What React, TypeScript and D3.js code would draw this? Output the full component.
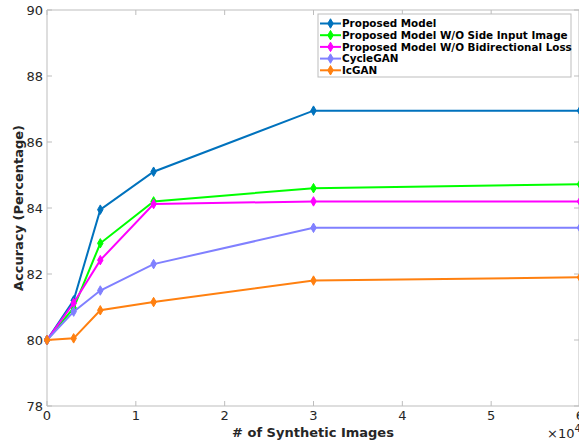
import * as d3 from "d3";

const xValues = [0, 3000, 6000, 12000, 30000, 60000];
const seriesNames = [
  "Proposed Model",
  "Proposed Model W/O Side Input Image",
  "Proposed Model W/O Bidirectional Loss",
  "CycleGAN",
  "IcGAN",
];
const proposed = [80, 81.2, 83.95, 85.1, 86.95, 86.95];
const noSideInput = [80, 80.97, 82.93, 84.2, 84.6, 84.72];
const noBidirectional = [80, 81.12, 82.42, 84.12, 84.2, 84.2];
const cycleGan = [80, 80.86, 81.5, 82.3, 83.4, 83.4];
const icGan = [80, 80.05, 80.9, 81.15, 81.8, 81.9];
const colors = ["#0072BD", "#00FF00", "#FF00FF", "#8080FF", "#FF8010"];
const xTicks = [0, 10000, 20000, 30000, 40000, 50000, 60000];
const yTicks = [78, 80, 82, 84, 86, 88, 90];

const W = 579;
const H = 441;
const left = 47, right = 580, top = 10, bottom = 406;
const axisColor = "#bdbdbd";
const textColor = "#262626";

export default function App() {
  const x = d3.scaleLinear().domain([0, 60000]).range([left, right]);
  const y = d3.scaleLinear().domain([78, 90]).range([bottom, top]);
  const all = [proposed, noSideInput, noBidirectional, cycleGan, icGan];
  const line = d3
    .line<number>()
    .x((_, i) => x(xValues[i]))
    .y((d) => y(d));
  const diamond = d3.symbol(d3.symbolDiamond, 26)()!;

  return (
    <svg
      width={W}
      height={H}
      style={{ position: "absolute", left: 0, top: 0, fontFamily: "DejaVu Sans" }}
    >
      <rect width={W} height={H} fill="white" />
      {/* box + ticks */}
      <line x1={left} x2={left} y1={top} y2={bottom} stroke={axisColor} />
      <line x1={left} x2={right} y1={bottom} y2={bottom} stroke={axisColor} />
      <line x1={left} x2={right} y1={top} y2={top} stroke={axisColor} />
      <line x1={right - 1} x2={right - 1} y1={top} y2={bottom} stroke={axisColor} />
      {xTicks.map((t) => (
        <g key={"x" + t}>
          <line x1={x(t)} x2={x(t)} y1={bottom} y2={bottom - 5} stroke={axisColor} />
          <line x1={x(t)} x2={x(t)} y1={top} y2={top + 5} stroke={axisColor} />
          <text x={x(t)} y={420} fontSize={13} fill={textColor} textAnchor="middle">
            {t / 10000}
          </text>
        </g>
      ))}
      {yTicks.map((t) => (
        <g key={"y" + t}>
          <line x1={left} x2={left + 5} y1={y(t)} y2={y(t)} stroke={axisColor} />
          <line x1={right - 6} x2={right - 1} y1={y(t)} y2={y(t)} stroke={axisColor} />
          <text x={43} y={y(t) + 4.5} fontSize={13} fill={textColor} textAnchor="end">
            {t}
          </text>
        </g>
      ))}
      <text x={547} y={438} fontSize={13} fill={textColor}>
        ×10
        <tspan dy={-6} fontSize={10}>4</tspan>
      </text>
      <text x={313} y={437} fontSize={13} fontWeight="bold" fill={textColor} textAnchor="middle">
        # of Synthetic Images
      </text>
      <text
        transform={`translate(23,${(top + bottom) / 2}) rotate(-90)`}
        fontSize={13}
        fontWeight="bold"
        fill={textColor}
        textAnchor="middle"
      >
        Accuracy (Percentage)
      </text>
      {/* series */}
      {all.map((s, k) => (
        <g key={seriesNames[k]}>
          <path d={line(s)!} fill="none" stroke={colors[k]} strokeWidth={2} />
          {s.map((v, i) => (
            <path
              key={i}
              d={diamond}
              transform={`translate(${x(xValues[i])},${y(v)})`}
              fill={colors[k]}
              stroke={colors[k]}
            />
          ))}
        </g>
      ))}
      {/* legend */}
      <g>
        <rect x={318} y={14} width={253} height={63} fill="white" stroke={axisColor} />
        {seriesNames.map((n, k) => {
          const ly = 23.5 + k * 11.7;
          return (
            <g key={"l" + n}>
              <line x1={320} x2={341} y1={ly} y2={ly} stroke={colors[k]} strokeWidth={2} />
              <path d={diamond} transform={`translate(330.5,${ly})`} fill={colors[k]} stroke={colors[k]} />
              <text x={342} y={ly + 3.8} fontSize={10.4} fontWeight="bold" fill="#000">
                {n}
              </text>
            </g>
          );
        })}
      </g>
    </svg>
  );
}
